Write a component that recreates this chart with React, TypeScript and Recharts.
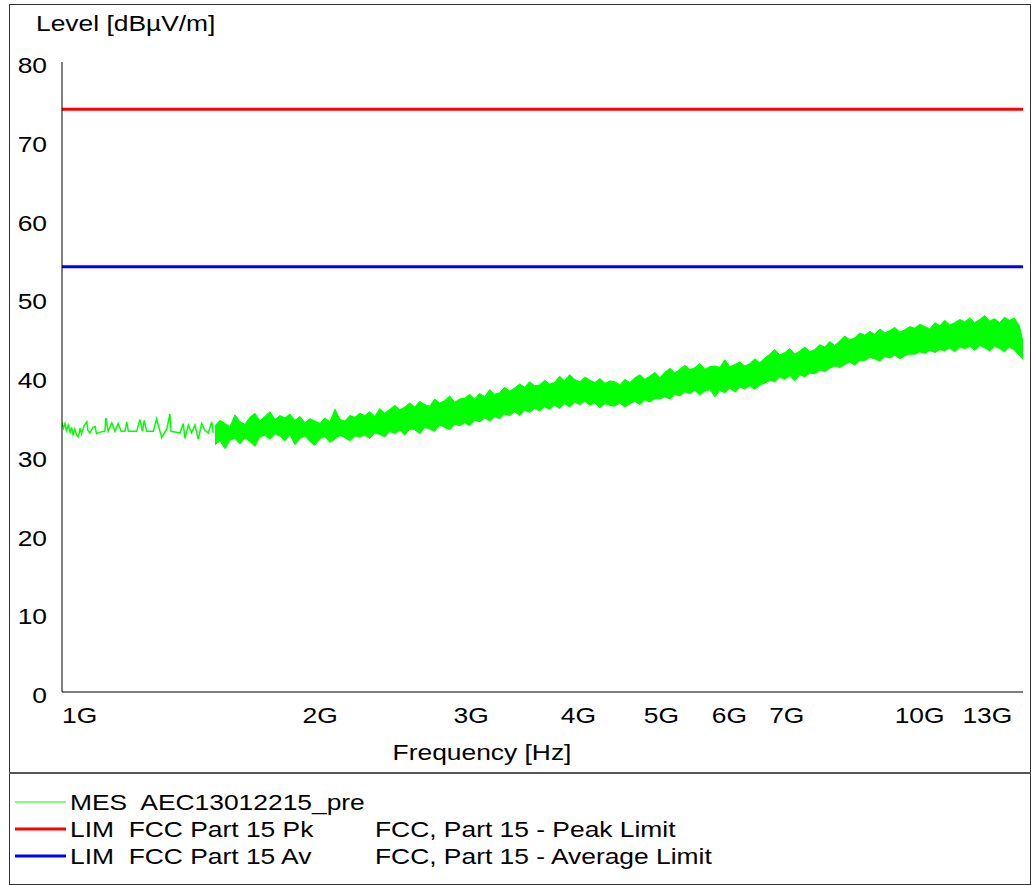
import React from 'react';
import { Area, ComposedChart, Line, XAxis, YAxis } from 'recharts';

// Messkurve, Anfang: einzelne Punkte (GHz / dBµV/m)
const sparseFreqGHz = [
  1.0, 1.004, 1.008, 1.012, 1.017, 1.022, 1.026, 1.03, 1.035, 1.04,
  1.045, 1.05, 1.054, 1.061, 1.069, 1.072, 1.078, 1.087, 1.093, 1.097,
  1.107, 1.122, 1.125, 1.132, 1.143, 1.153, 1.163, 1.172, 1.184, 1.19,
  1.195, 1.222, 1.233, 1.241, 1.247, 1.255, 1.278, 1.289, 1.307, 1.325,
  1.336, 1.34, 1.373, 1.385, 1.391, 1.404, 1.416, 1.429, 1.442, 1.455,
  1.468, 1.481, 1.495, 1.501,
];
const sparseLevel = [
  34.2, 33.5, 34.1, 33.2, 33.9, 33.0, 33.6, 32.7, 33.4, 32.6,
  32.4, 33.5, 32.8, 33.8, 34.3, 33.2, 32.9, 33.6, 33.7, 32.8,
  33.0, 33.1, 34.8, 33.1, 34.2, 33.1, 34.1, 33.1, 33.1, 34.3,
  33.1, 33.1, 34.6, 33.1, 34.5, 33.1, 33.1, 34.7, 32.3, 33.4,
  35.3, 33.1, 32.9, 34.1, 32.2, 33.9, 32.9, 33.9, 32.1, 34.1,
  33.2, 32.9, 34.3, 32.9,
];

// Messkurve, dichter Teil: Min/Max je Frequenz
const bandFreqGHz = [
  1.508, 1.528, 1.549, 1.57, 1.591, 1.613, 1.634, 1.656, 1.679, 1.701,
  1.724, 1.748, 1.771, 1.795, 1.82, 1.844, 1.869, 1.894, 1.92, 1.946,
  1.972, 1.999, 2.026, 2.053, 2.081, 2.109, 2.137, 2.166, 2.195, 2.225,
  2.255, 2.285, 2.316, 2.347, 2.379, 2.411, 2.444, 2.477, 2.51, 2.544,
  2.578, 2.613, 2.648, 2.684, 2.72, 2.757, 2.794, 2.832, 2.87, 2.909,
  2.948, 2.988, 3.028, 3.069, 3.111, 3.153, 3.195, 3.238, 3.282, 3.326,
  3.371, 3.417, 3.463, 3.51, 3.557, 3.605, 3.654, 3.703, 3.753, 3.804,
  3.855, 3.907, 3.96, 4.017, 4.071, 4.126, 4.182, 4.239, 4.296, 4.354,
  4.413, 4.472, 4.533, 4.594, 4.656, 4.719, 4.783, 4.847, 4.913, 4.979,
  5.046, 5.115, 5.184, 5.254, 5.325, 5.397, 5.469, 5.543, 5.618, 5.694,
  5.771, 5.849, 5.928, 6.008, 6.089, 6.171, 6.254, 6.339, 6.424, 6.511,
  6.599, 6.688, 6.779, 6.87, 6.963, 7.057, 7.152, 7.249, 7.347, 7.446,
  7.547, 7.649, 7.752, 7.857, 7.963, 8.073, 8.182, 8.293, 8.405, 8.518,
  8.633, 8.75, 8.868, 8.988, 9.109, 9.232, 9.357, 9.483, 9.611, 9.741,
  9.872, 10.005, 10.14, 10.28, 10.42, 10.56, 10.7, 10.84, 10.99, 11.14,
  11.29, 11.44, 11.59, 11.75, 11.91, 12.07, 12.23, 12.4, 12.56, 12.73,
  12.9, 13.08, 13.2,
];
const bandMin = [
  31.4, 31.9, 30.9, 32.0, 32.2, 31.5, 32.3, 31.8, 31.2, 32.4,
  32.6, 32.1, 32.8, 32.5, 31.9, 32.7, 31.4, 32.2, 32.5, 31.8,
  31.3, 32.2, 32.4, 31.7, 32.1, 32.6, 32.3, 31.9, 32.5, 32.4,
  32.6, 32.2, 32.9, 32.7, 32.4, 33.1, 32.8, 33.3, 32.6, 33.4,
  33.3, 32.8, 33.6, 33.4, 33.1, 33.9, 33.6, 33.3, 34.0, 33.8,
  34.2, 33.8, 34.5, 34.3, 34.8, 34.4, 35.0, 34.7, 35.3, 35.1,
  35.6, 35.1, 35.8, 35.5, 36.0, 35.7, 36.2, 35.9, 36.4, 36.0,
  36.6, 36.2, 36.8, 36.5, 36.9, 36.4, 36.7, 36.1, 36.6, 36.4,
  36.3, 36.7, 36.2, 36.6, 36.9, 36.5, 37.1, 36.8, 37.3, 37.2,
  37.5, 37.2, 37.8, 37.6, 38.1, 37.9, 38.3, 37.7, 38.2, 38.4,
  37.5, 38.3, 38.0, 38.6, 38.1, 38.7, 38.5, 38.9, 38.4, 39.0,
  39.2, 39.6, 39.4, 40.0, 39.7, 40.2, 39.5, 40.3, 40.0, 40.5,
  40.4, 40.9, 40.7, 41.1, 41.4, 41.2, 41.6, 41.9, 41.5, 42.1,
  42.1, 42.5, 42.3, 42.0, 42.6, 42.4, 42.8, 42.3, 42.7, 42.9,
  42.9, 43.2, 43.0, 43.4, 43.1, 43.5, 43.3, 43.7, 43.2, 43.8,
  43.6, 43.9, 43.4, 44.0, 43.7, 43.3, 43.9, 43.6, 43.2, 43.8,
  43.4, 42.7, 42.2,
];
const bandMax = [
  33.8, 34.5, 34.1, 33.7, 35.2, 34.3, 34.0, 34.9, 35.4, 34.4,
  35.0, 35.6, 34.6, 35.1, 34.8, 35.3, 34.5, 35.0, 34.2, 34.7,
  34.4, 34.1, 34.8, 34.3, 35.9, 34.6, 34.4, 35.1, 34.9, 35.4,
  35.1, 35.6, 35.0, 36.0, 35.4, 35.9, 36.4, 35.8, 36.2, 36.7,
  36.2, 36.9, 36.5, 36.3, 37.2, 36.7, 37.0, 37.6, 36.8, 37.2,
  37.3, 37.8, 37.2, 37.9, 37.5, 38.4, 37.8, 38.0, 38.7, 38.2,
  38.6, 39.1, 38.7, 39.4, 38.9, 39.0, 39.6, 39.1, 39.3, 40.1,
  39.5, 40.3, 39.7, 39.4, 40.0, 39.6, 39.3, 39.8, 39.2, 39.5,
  39.4, 39.0, 39.7, 39.3, 39.9, 40.3, 39.7, 40.1, 40.6, 39.9,
  40.6, 41.1, 40.5, 41.0, 41.5, 40.9, 41.2, 41.7, 41.0, 41.3,
  41.4, 41.2, 42.2, 41.3, 41.6, 41.9, 41.4, 41.7, 42.3, 41.8,
  42.4, 42.9, 43.5, 42.8, 43.1, 43.6, 42.9, 43.3, 43.8, 43.2,
  43.5, 44.1, 43.8, 44.5, 44.0, 44.6, 45.2, 44.7, 45.0, 45.6,
  45.3, 45.8, 45.4, 46.1, 45.6, 45.9, 46.3, 45.7, 46.0, 46.4,
  46.2, 46.7, 46.4, 46.1, 46.9, 46.5, 47.2, 46.6, 46.9, 47.3,
  47.0, 47.5, 46.9, 47.3, 47.8, 47.1, 47.4, 46.9, 47.6, 47.2,
  47.5, 46.4, 44.5,
];

// Grenzwerte FCC Part 15 (dBµV/m)
const PEAK_LIMIT = 74;
const AVG_LIMIT = 54;

const xTicks = [1, 2, 3, 4, 5, 6, 7, 10, 13];
const yTicks = [0, 10, 20, 30, 40, 50, 60, 70, 80];

const FONT = '"Liberation Sans", Arial, sans-serif';

type Row = { f: number; level?: number; band?: [number, number]; pk?: number; av?: number };

const chartData: Row[] = [
  ...sparseFreqGHz.map((f, i) => ({ f, level: sparseLevel[i] })),
  ...bandFreqGHz.map((f, i) => ({ f, band: [bandMin[i], bandMax[i]] as [number, number] })),
];
chartData[0].pk = PEAK_LIMIT;
chartData[0].av = AVG_LIMIT;
chartData[chartData.length - 1].pk = PEAK_LIMIT;
chartData[chartData.length - 1].av = AVG_LIMIT;

// Text etwas breiter gezogen wie im Original
function Txt({ x, y, anchor = 'start', children }: { x: number; y: number; anchor?: string; children: React.ReactNode }) {
  return (
    <text
      transform={`translate(${x},${y}) scale(1.2,1)`}
      textAnchor={anchor as any}
      fontSize={22}
      fontFamily={FONT}
      fill="#000"
      style={{ whiteSpace: 'pre' }}
    >
      {children}
    </text>
  );
}

function YTick(props: any) {
  const { y, payload } = props;
  return <Txt x={47} y={y + 11} anchor="end">{payload.value}</Txt>;
}

function XTick(props: any) {
  const { x, payload } = props;
  const v = payload.value;
  let anchor = 'middle';
  let tx = x;
  if (v === 1) {
    anchor = 'start';
  } else if (v === 13) {
    anchor = 'end';
    tx = x - 5;
  }
  return <Txt x={tx} y={723} anchor={anchor}>{`${v}G`}</Txt>;
}

export default function App() {
  return (
    <div style={{ position: 'absolute', left: 0, top: 0, width: 1031, height: 885, background: '#fff' }}>
      <ComposedChart width={1031} height={885} data={chartData} margin={{ top: 62, right: 8, left: 0, bottom: 0 }}>
        <XAxis
          dataKey="f"
          type="number"
          scale="log"
          domain={[1, 13.2]}
          ticks={xTicks}
          interval={0}
          allowDataOverflow
          height={193}
          axisLine={{ stroke: '#000' }}
          tickLine={false}
          tick={<XTick />}
        />
        <YAxis
          type="number"
          domain={[0, 80]}
          ticks={yTicks}
          interval={0}
          width={62}
          axisLine={{ stroke: '#000' }}
          tickLine={false}
          tick={<YTick />}
        />
        <Line dataKey="pk" stroke="#ff0000" strokeWidth={3} dot={false} activeDot={false} connectNulls isAnimationActive={false} />
        <Line dataKey="av" stroke="#0000ff" strokeWidth={3} dot={false} activeDot={false} connectNulls isAnimationActive={false} />
        <Line dataKey="level" stroke="#00ff00" strokeWidth={1.5} dot={false} activeDot={false} isAnimationActive={false} />
        <Area
          dataKey="band"
          type="linear"
          stroke="#00ff00"
          strokeWidth={1}
          fill="#00ff00"
          fillOpacity={1}
          dot={false}
          activeDot={false}
          isAnimationActive={false}
        />
      </ComposedChart>

      <svg width={1031} height={885} style={{ position: 'absolute', left: 0, top: 0, pointerEvents: 'none' }}>
        <rect x={9.5} y={4.5} width={1021} height={880} fill="none" stroke="#333" strokeWidth={1} />
        <line x1={9} x2={1031} y1={773} y2={773} stroke="#555" strokeWidth={2} />
        <Txt x={36} y={31}>Level [dBµV/m]</Txt>
        <Txt x={482} y={760} anchor="middle">Frequency [Hz]</Txt>

        <line x1={15} x2={66} y1={802} y2={802} stroke="#00ff00" strokeWidth={1} />
        <Txt x={70} y={810}>{'MES  AEC13012215_pre'}</Txt>

        <line x1={15} x2={66} y1={829} y2={829} stroke="#ff0000" strokeWidth={3} />
        <Txt x={70} y={837}>{'LIM  FCC Part 15 Pk'}</Txt>
        <Txt x={375} y={837}>FCC, Part 15 - Peak Limit</Txt>

        <line x1={15} x2={66} y1={856} y2={856} stroke="#0000ff" strokeWidth={3} />
        <Txt x={70} y={864}>{'LIM  FCC Part 15 Av'}</Txt>
        <Txt x={375} y={864}>FCC, Part 15 - Average Limit</Txt>
      </svg>
    </div>
  );
}
